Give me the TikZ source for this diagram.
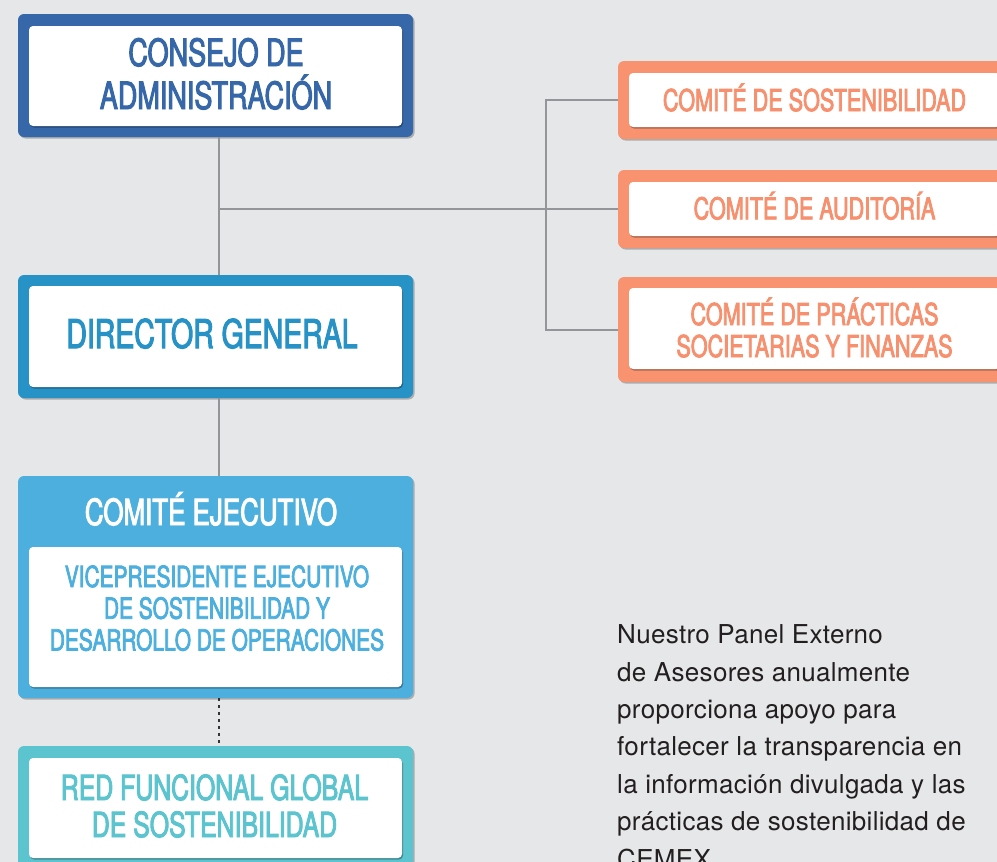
\documentclass[tikz,border=0pt]{standalone}
\usepackage{fontspec}
\setmainfont{TeX Gyre Heros}
\newfontfamily\condfont{TeX Gyre Heros}[FakeStretch=0.72, FakeBold=2.6]
\usetikzlibrary{shadows}
\definecolor{bgc}{HTML}{E6E7E9}
\definecolor{consc}{HTML}{3667A8}
\definecolor{dirc}{HTML}{2792C6}
\definecolor{cec}{HTML}{4CAFDD}
\definecolor{rfc}{HTML}{5BC4CF}
\definecolor{salc}{HTML}{F8926F}
\definecolor{saltext}{HTML}{F7906E}
\definecolor{linegray}{HTML}{939598}
\definecolor{txtc}{HTML}{231F20}
\tikzset{
  outerbox/.style={rectangle, rounded corners=6pt, inner sep=0pt,
    drop shadow={shadow xshift=1.5pt, shadow yshift=-1.5pt, opacity=0.25, fill=black}},
  innerbox/.style={rectangle, rounded corners=4pt, fill=white, inner sep=0pt,
    drop shadow={shadow xshift=1pt, shadow yshift=-1.5pt, opacity=0.3, fill=black}},
  ttl/.style={anchor=base, inner sep=0pt},
  conn/.style={draw=linegray, line width=2pt},
  dotconn/.style={draw=black!80, line width=2.6pt, dash pattern=on 2.6pt off 4.4pt},
}
\begin{document}
\begin{tikzpicture}[x=1pt,y=-1pt]
\useasboundingbox (0,0) rectangle (997,862);
\clip (0,0) rectangle (997,862);
\fill[bgc] (0,0) rectangle (997,862);
\coordinate (spine) at (219,0);
\coordinate (bus) at (546,0);

% Consejo de Administracion
\node[outerbox, fill=consc, minimum width=395pt, minimum height=123pt] (consejo) at (215.5,75.5) {};
\node[innerbox, minimum width=373pt, minimum height=100pt] (consejoin) at (215.5,76) {};
\node[ttl, text=consc, font=\condfont\fontsize{37.5}{43}\selectfont] (consejo1) at (216,66) {CONSEJO DE};
\node[ttl, text=consc, font=\condfont\fontsize{37.5}{43}\selectfont] (consejo2) at (216,109) {ADMINISTRACIÓN};

% Director General
\node[outerbox, fill=dirc, minimum width=395pt, minimum height=123pt] (director) at (215.5,336.5) {};
\node[innerbox, minimum width=373pt, minimum height=101pt] (directorin) at (215.5,336.5) {};
\node[ttl, text=dirc, font=\condfont\fontsize{39.5}{45}\selectfont] (director1) at (212,348) {DIRECTOR GENERAL};

% Comite Ejecutivo
\node[outerbox, fill=cec, minimum width=395pt, minimum height=222pt] (ce) at (215.5,587) {};
\node[ttl, text=white, font=\condfont\fontsize{36}{42}\selectfont] (cetitle) at (211,525) {COMITÉ EJECUTIVO};
\node[innerbox, minimum width=373pt, minimum height=140pt] (cein) at (215.5,617) {};
\node[ttl, text=cec, font=\condfont\fontsize{29}{32}\selectfont] (vp1) at (217,587) {VICEPRESIDENTE EJECUTIVO};
\node[ttl, text=cec, font=\condfont\fontsize{29}{32}\selectfont] (vp2) at (217,618.7) {DE SOSTENIBILIDAD Y};
\node[ttl, text=cec, font=\condfont\fontsize{29}{32}\selectfont] (vp3) at (217,650.5) {DESARROLLO DE OPERACIONES};

% Red Funcional Global
\node[outerbox, fill=rfc, minimum width=395pt, minimum height=128pt] (rf) at (215.5,810) {};
\node[innerbox, minimum width=373pt, minimum height=100pt] (rfin) at (215.5,808) {};
\node[ttl, text=rfc, font=\condfont\fontsize{34.5}{37}\selectfont] (rf1) at (214.5,800) {RED FUNCIONAL GLOBAL};
\node[ttl, text=rfc, font=\condfont\fontsize{34.5}{37}\selectfont] (rf2) at (214.5,837) {DE SOSTENIBILIDAD};

% Comites del consejo
\node[outerbox, fill=salc, minimum width=392pt, minimum height=78pt] (sost) at (814,100) {};
\node[innerbox, minimum width=371pt, minimum height=54pt] (sostin) at (814.5,100) {};
\node[ttl, text=saltext, font=\condfont\fontsize{30}{32}\selectfont] (sost1) at (814.5,111) {COMITÉ DE SOSTENIBILIDAD};

\node[outerbox, fill=salc, minimum width=392pt, minimum height=78pt] (aud) at (814,209) {};
\node[innerbox, minimum width=371pt, minimum height=54pt] (audin) at (814.5,209) {};
\node[ttl, text=saltext, font=\condfont\fontsize{30}{32}\selectfont] (aud1) at (814.5,219.3) {COMITÉ DE AUDITORÍA};

\node[outerbox, fill=salc, minimum width=392pt, minimum height=105pt] (prac) at (814,329.5) {};
\node[innerbox, minimum width=371pt, minimum height=81pt] (pracin) at (814.5,328.5) {};
\node[ttl, text=saltext, font=\condfont\fontsize{30}{32}\selectfont] (prac1) at (814.5,325) {COMITÉ DE PRÁCTICAS};
\node[ttl, text=saltext, font=\condfont\fontsize{30}{32}\selectfont] (prac2) at (814.5,357) {SOCIETARIAS Y FINANZAS};

% Connectors
\draw[conn] (consejo.south -| spine) -- (director.north -| spine);
\draw[conn] (director.south -| spine) -- (ce.north -| spine);
\draw[dotconn] (ce.south -| spine) -- (rf.north -| spine);
\draw[conn] (spine |- aud.west) -- (aud.west);
\draw[conn] (sost.west) -- (bus |- sost.west) -- (bus |- prac.west) -- (prac.west);

% Paragraph
\node[anchor=north west, inner sep=0pt, align=left, text=txtc,
      font=\addfontfeature{LetterSpace=1.2}\fontsize{26}{37.4}\selectfont] (panel) at (617,624.5)
  {Nuestro Panel Externo\\
   de Asesores anualmente\\
   proporciona apoyo para\\
   fortalecer la transparencia en\\
   la información divulgada y las\\
   prácticas de sostenibilidad de\\
   CEMEX.};
\end{tikzpicture}
\end{document}
